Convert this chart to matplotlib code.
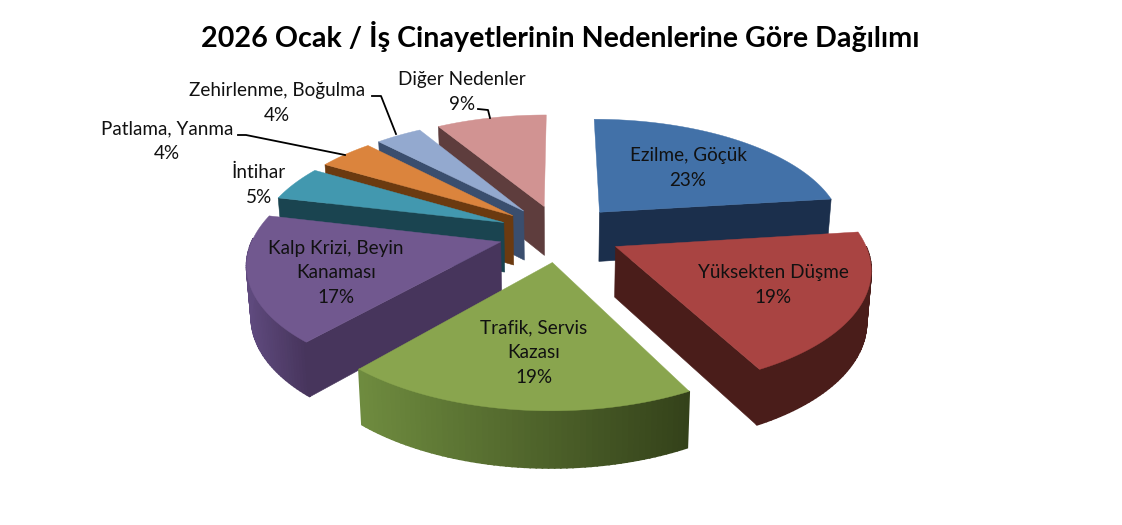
# 2026 Ocak - exploded perspective pie, drawn by hand since matplotlib has no 3D pie
import numpy as np
import matplotlib
matplotlib.use("Agg")
import matplotlib.pyplot as plt
from matplotlib.colors import to_rgb

plt.rcParams['font.family'] = ['Lato', 'DejaVu Sans']

title = "2026 Ocak / İş Cinayetlerinin Nedenlerine Göre Dağılımı"
labels = ["Ezilme, Göçük", "Yüksekten Düşme", "Trafik, Servis\nKazası", "Kalp Krizi, Beyin\nKanaması",
          "İntihar", "Patlama, Yanma", "Zehirlenme, Boğulma", "Diğer Nedenler"]
# shares, the printed percentages are these rounded
values = [23.0, 19.4, 19.0, 17.3, 4.8, 4.3, 3.6, 8.6]

top_colors = ["#4271A8", "#A94442", "#89A54E", "#71588F", "#4298AF", "#DB843D", "#93A9CF", "#D19392"]
side_colors = ["#1B2F4C", "#4A1D1A", "#6F8C3F", "#47355C", "#1A4450", "#6B3A10", "#3A4E6E", "#5E3D3D"]
edge_colors = ["#1B2F4C", "#4A1D1A", "#34421A", "#5F4A7E", "#1A4450", "#6B3A10", "#3A4E6E", "#5E3D3D"]
label_pos = [(688, 168), (773, 285), (534, 353), (336, 273), (259, 185), (167, 141), (277, 103), (462, 92)]

# projection of the pie plane onto the picture
cx, cy = 560, 233
rx, ry = 246, 114
persp = 0.16
explode = 0.25
depth = 50


def project(x, y):
    w = 1 + persp * y
    return cx + rx * x / w, cy - ry * y / w


def drop(px, py, x, y):
    # same point on the underside of the slice
    h = depth / (1 + persp * y) ** 0.6
    return cx + (px - cx) * 0.985, py + h


def wall(ax, p1, p2, color, lw=0.4):
    ax.fill([p1[0], p2[0], p2[2], p1[2]], [p1[1], p2[1], p2[3], p1[3]],
            color=color, lw=lw, zorder=2)


fig = plt.figure(figsize=(11.22, 5.25), dpi=100, facecolor="white")
ax = fig.add_axes([0, 0, 1, 1])
ax.set_xlim(0, 1122)
ax.set_ylim(525, 0)
ax.axis("off")

edges = np.cumsum([0] + values) / sum(values) * 360
# back slices first so the front ones sit on top
order = [7, 6, 5, 4, 0, 3, 1, 2]

for i in order:
    start, end = edges[i], edges[i + 1]
    mid = np.radians((start + end) / 2)
    ox, oy = explode * np.sin(mid), explode * np.cos(mid)
    th = np.radians(np.linspace(start, end, 60))
    xs, ys = ox + np.sin(th), oy + np.cos(th)
    px, py = project(xs, ys)
    bx, by = drop(px, py, xs, ys)
    ax0, ay0 = project(ox, oy)
    abx, aby = drop(ax0, ay0, ox, oy)

    # flat radial sides, only the ones turned to the viewer
    if np.sin(np.radians(start)) < -1e-6:
        wall(ax, (ax0, ay0, abx, aby), (px[0], py[0], bx[0], by[0]), side_colors[i])
    if np.sin(np.radians(end)) > 1e-6:
        wall(ax, (ax0, ay0, abx, aby), (px[-1], py[-1], bx[-1], by[-1]), side_colors[i])

    # rim, shaded strip by strip
    c1, c2 = np.array(to_rgb(side_colors[i])), np.array(to_rgb(edge_colors[i]))
    for k in range(len(th) - 1):
        if np.cos(th[k]) < 0.02:
            f = (px[k] - px.min()) / (px.max() - px.min())
            if start > 180:
                f = 1 - f
            wall(ax, (px[k], py[k], bx[k], by[k]), (px[k + 1], py[k + 1], bx[k + 1], by[k + 1]),
                 tuple(c1 + (c2 - c1) * f), lw=1.2)

    ax.fill(np.r_[ax0, px], np.r_[ay0, py], color=top_colors[i], lw=0.3, zorder=2)

for name, v, (tx, ty) in zip(labels, values, label_pos):
    ax.text(tx, ty, f"{name}\n{round(v)}%", ha="center", va="center", fontsize=13.6,
            color="#111111", linespacing=1.55, zorder=4)

# leader lines of the small slices
ax.plot([238, 246, 345], [135, 135, 155], color="black", lw=1.3, zorder=3)
ax.plot([372, 381, 396], [96, 96, 134], color="black", lw=1.3, zorder=3)
ax.plot([478, 488, 490], [109, 110, 118], color="black", lw=1.3, zorder=3)

ax.text(560, 36, title, ha="center", va="center", fontsize=20.6, fontweight="bold", color="black")

fig.savefig("out.png", dpi=100)
